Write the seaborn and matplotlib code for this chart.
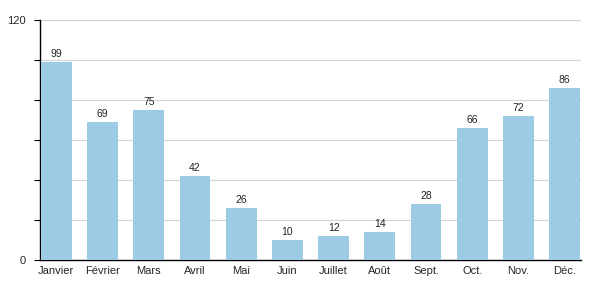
import matplotlib
matplotlib.use("Agg")
import matplotlib.pyplot as plt
import seaborn as sns
import pandas as pd
import numpy as np

months = ["Janvier", "Février", "Mars", "Avril", "Mai", "Juin", "Juillet",
          "Août", "Sept.", "Oct.", "Nov.", "Déc."]
values = [99, 69, 75, 42, 26, 10, 12, 14, 28, 66, 72, 86]

sns.set_style("white")
plt.rcParams['font.family'] = ['Liberation Sans', 'DejaVu Sans']

df = pd.DataFrame({"mois": months, "valeur": values})

fig = plt.figure(figsize=(6, 3), dpi=100)
ax = fig.add_axes([40/600, 40/300, 541/600, 240/300])

w = 0.67
sns.barplot(data=df, x="mois", y="valeur", color="#9dcbe5", width=w,
            saturation=1, ax=ax, zorder=3, linewidth=0)

for i, v in enumerate(values):
    ax.text(i, v + 1.5, str(v), ha="center", va="bottom", fontsize=7.5, color="#222222", zorder=4)

ax.set_ylim(0, 120)
ax.set_xlim(-w/2 - 0.02, len(values) - 1 + w/2 + 0.02)
ax.set_yticks([0, 120])
ax.set_yticks(np.arange(20, 120, 20), minor=True)
ax.yaxis.grid(True, which="both", color="#d4d4d4", linewidth=0.8, zorder=0)
ax.axhline(120, color="#d4d4d4", linewidth=0.8, zorder=0)
ax.tick_params(axis="y", which="both", length=4, width=0.8, color="black", left=True,
               labelsize=8, pad=6)
ax.tick_params(axis="x", length=0, labelsize=8, pad=4)
ax.set_xlabel("")
ax.set_ylabel("")
for s in ["top", "right"]:
    ax.spines[s].set_visible(False)
ax.spines["left"].set_color("black")
ax.spines["bottom"].set_color("black")
ax.spines["left"].set_linewidth(1)
ax.spines["bottom"].set_linewidth(1)

fig.savefig("out.png", dpi=100)
